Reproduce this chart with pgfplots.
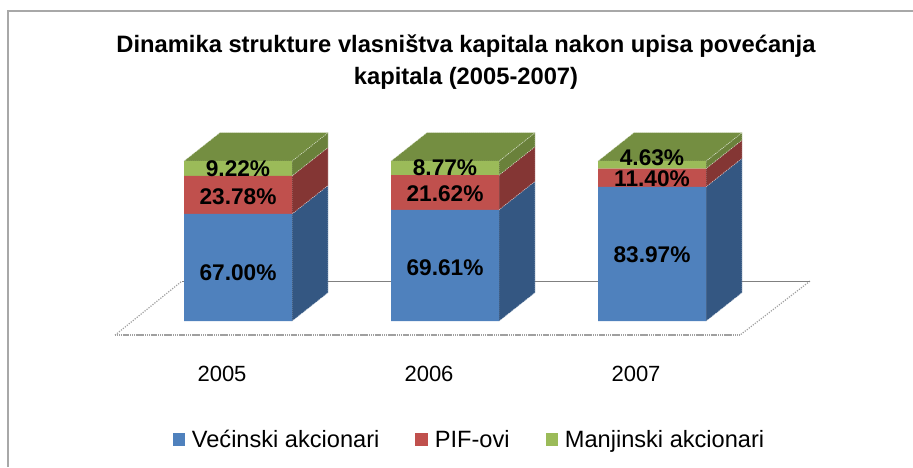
\documentclass[border=0pt]{standalone}
\usepackage{fontspec}
\setmainfont{Liberation Sans}
\usepackage{pgfplots}
\usepackage{pgfplotstable}
\pgfplotsset{compat=1.18}
\definecolor{BlueF}{HTML}{4F81BD}
\definecolor{BlueS}{HTML}{345782}
\definecolor{RedF}{HTML}{C0504D}
\definecolor{RedS}{HTML}{843634}
\definecolor{GreenF}{HTML}{9BBB59}
\definecolor{GreenS}{HTML}{6A813B}
\definecolor{GreenT}{HTML}{748E41}
\definecolor{FrameC}{HTML}{A8A8A8}
\definecolor{FloorC}{HTML}{A0A0A0}

% x: year index, pct: share, off: label shift in pt
\pgfplotstableread{
x pct off
0 67.00 -3.5
1 69.61 -1.5
2 83.97 -0.5
}\majority
\pgfplotstableread{
x pct off
0 23.78 -1
1 21.62 -1
2 11.40 -1
}\pif
\pgfplotstableread{
x pct off
0 9.22 0
1 8.77 0
2 4.63 5.5
}\minority

\pgfplotsset{
  base/.style={
    width=684.75pt, height=350.25pt, scale only axis,
    xmin=-1.1498, xmax=3.2609,
    ymin=-91.25, ymax=200.625,
  },
  face/.style={fill=#1, draw=white!75!#1, densely dotted, line width=0.5pt, mark=none, forget plot},
}

\begin{document}
\begin{tikzpicture}
% floor, frame and the side and top faces
\begin{axis}[base, hide axis]
\addplot[FrameC, line width=1.5pt, mark=none, forget plot] coordinates {(-1.111,-91.25) (-1.111,193.75) (3.2609,193.75)};
\addplot[FloorC, line width=0.9pt, densely dotted, mark=none, forget plot] coordinates {(-0.594,-8.75) (-0.271,25)};
\addplot[FloorC, line width=0.9pt, densely dotted, mark=none, forget plot] coordinates {(2.763,25) (2.425,-8.75)};
\addplot[gray, line width=0.9pt, mark=none, forget plot] coordinates {(-0.271,25) (2.763,25)};
\addplot[FloorC, line width=1.6pt, dash pattern=on 1pt off 0.4pt, mark=none, forget plot] coordinates {(-0.594,-8.75) (2.425,-8.75)};
% 2005
\addplot[face=BlueS] coordinates {(0.261,0) (0.435,17.8) (0.435,84.8) (0.261,67)} --cycle;
\addplot[face=RedS] coordinates {(0.261,67) (0.435,84.8) (0.435,108.58) (0.261,90.78)} --cycle;
\addplot[face=GreenS] coordinates {(0.261,90.78) (0.435,108.58) (0.435,117.8) (0.261,100)} --cycle;
\addplot[face=GreenT] coordinates {(-0.261,100) (0.261,100) (0.435,117.8) (-0.087,117.8)} --cycle;
% 2006
\addplot[face=BlueS] coordinates {(1.261,0) (1.435,17.8) (1.435,87.41) (1.261,69.61)} --cycle;
\addplot[face=RedS] coordinates {(1.261,69.61) (1.435,87.41) (1.435,109.03) (1.261,91.23)} --cycle;
\addplot[face=GreenS] coordinates {(1.261,91.23) (1.435,109.03) (1.435,117.8) (1.261,100)} --cycle;
\addplot[face=GreenT] coordinates {(0.739,100) (1.261,100) (1.435,117.8) (0.913,117.8)} --cycle;
% 2007
\addplot[face=BlueS] coordinates {(2.261,0) (2.435,17.8) (2.435,101.77) (2.261,83.97)} --cycle;
\addplot[face=RedS] coordinates {(2.261,83.97) (2.435,101.77) (2.435,113.17) (2.261,95.37)} --cycle;
\addplot[face=GreenS] coordinates {(2.261,95.37) (2.435,113.17) (2.435,117.8) (2.261,100)} --cycle;
\addplot[face=GreenT] coordinates {(1.739,100) (2.261,100) (2.435,117.8) (1.913,117.8)} --cycle;
\end{axis}
% front faces, labels, title, legend
\begin{axis}[
  base,
  ybar stacked,
  bar width=0.52,
  axis line style={draw=none},
  ymajorticks=false,
  xtick={0,1,2},
  xticklabels={2005,2006,2007},
  major tick length=0pt,
  xticklabel style={anchor=center, xshift=-12pt, yshift=69.75pt, font=\fontsize{16.5}{20}\selectfont},
  title={Dinamika strukture vlasništva kapitala nakon upisa povećanja\\kapitala (2005-2007)},
  title style={at={(0.5104,0.850)}, anchor=center, align=center, font=\fontsize{17.8}{24}\bfseries\selectfont},
  nodes near coords={\pgfmathprintnumber[fixed,fixed zerofill,precision=2,assume math mode=true]{\pgfplotspointmeta}\%},
  every node near coord/.append style={font=\fontsize{17}{20}\bfseries\selectfont, text=black, yshift=\labeloff pt},
  visualization depends on={\thisrow{off} \as \labeloff},
  legend style={at={(0.5145,0.0578)}, anchor=center, draw=none, fill=none, legend columns=3,
    font=\fontsize{17.7}{20}\selectfont,
    /tikz/every even column/.append style={column sep=25pt},
    /tikz/every odd column/.append style={column sep=3pt}},
  legend image code/.code={\fill[#1] (0pt,-4.5pt) rectangle (9.5pt,5pt);},
]
\addplot[fill=BlueF, draw=none] table[x=x, y=pct, meta=pct] {\majority};
\addplot[fill=RedF, draw=none] table[x=x, y=pct, meta=pct] {\pif};
\addplot[fill=GreenF, draw=none] table[x=x, y=pct, meta=pct] {\minority};
\legend{Većinski akcionari,PIF-ovi,Manjinski akcionari}
\end{axis}
\end{tikzpicture}
\end{document}
